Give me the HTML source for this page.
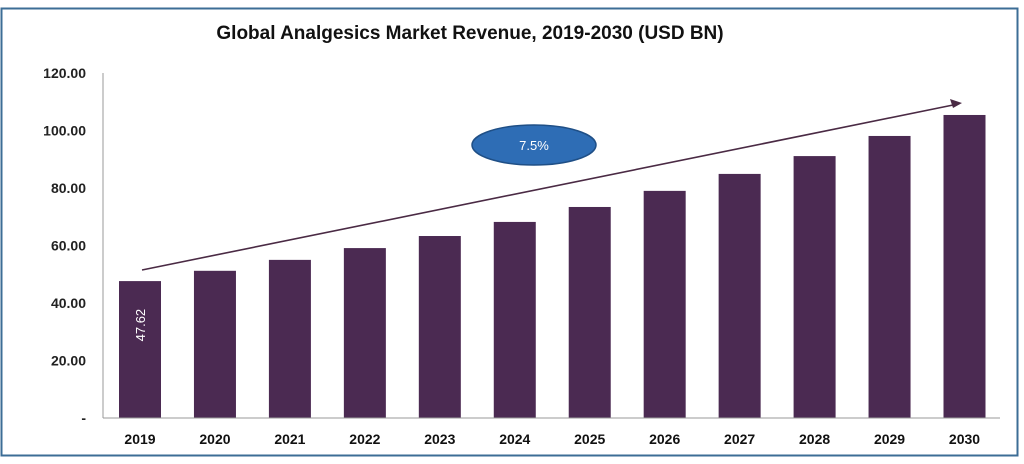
<!DOCTYPE html>
<html><head><meta charset="utf-8"><style>
html,body{margin:0;padding:0;background:#fff;}
svg{display:block;font-family:"Liberation Sans",Arial,sans-serif;}
</style></head><body>
<svg width="1024" height="464" viewBox="0 0 1024 464" xmlns="http://www.w3.org/2000/svg">
<rect x="1.5" y="8.5" width="1016" height="447" fill="#fff" stroke="#3c6d96" stroke-width="2"/>
<text x="470" y="39" text-anchor="middle" font-size="19" font-weight="bold" fill="#111">Global Analgesics Market Revenue, 2019-2030 (USD BN)</text>
<g id="yaxis"></g>
<g id="bars"></g>
<g id="xaxis"></g>
<line x1="142" y1="270" x2="958" y2="104" stroke="#4a2a44" stroke-width="1.6"/>
<polygon points="962,103 950,99 953,108" fill="#4a2a44"/>
<ellipse cx="534" cy="145" rx="62" ry="20" fill="#2e6db5" stroke="#1f4f86" stroke-width="1.5"/>
<text x="534" y="150" text-anchor="middle" font-size="13" fill="#fff">7.5%</text>
<script>
const categories=["2019","2020","2021","2022","2023","2024","2025","2026","2027","2028","2029","2030"];
const values=[47.62,51.2,55.0,59.1,63.3,68.2,73.4,79.0,84.9,91.1,98.1,105.4];
const yTicks=[0,20,40,60,80,100,120];
const yTickLabels=["-","20.00","40.00","60.00","80.00","100.00","120.00"];
const NS="http://www.w3.org/2000/svg";
const x0=103,x1=1000,yBase=418,yTop=73,yMax=120;
const y=v=>yBase-(v/yMax)*(yBase-yTop);
const step=(964.5-140)/(categories.length-1);
const xc=i=>140+step*i;
function mk(t,a,p){const e=document.createElementNS(NS,t);for(const k in a)e.setAttribute(k,a[k]);p.appendChild(e);return e;}
const ya=document.getElementById('yaxis'),ba=document.getElementById('bars'),xa=document.getElementById('xaxis');
const al=mk('line',{x1:x0,y1:yTop,x2:x0,y2:yBase,stroke:'#999','stroke-width':1},ya);


yTicks.forEach((t,i)=>{const e=mk('text',{x:86,y:y(t)+5,'text-anchor':'end','font-size':14,'font-weight':'bold',fill:'#222'},ya);e.textContent=yTickLabels[i];

});
const bl=mk('line',{x1:x0,y1:yBase,x2:x1,y2:yBase,stroke:'#999','stroke-width':1},xa);


const bw=42;
categories.forEach((c,i)=>{const cx=xc(i);
const r=mk('rect',{x:cx-bw/2,y:y(values[i]),width:bw,height:yBase-y(values[i]),fill:'#4b2a52'},ba);


const t=mk('text',{x:cx,y:444,'text-anchor':'middle','font-size':14,'font-weight':'bold',fill:'#111'},xa);t.textContent=c;

});
const lx=xc(0)+5,ly=y(values[0])+44;
const lab=mk('text',{x:lx,y:ly,transform:`rotate(-90 ${lx} ${ly})`,'text-anchor':'middle','font-size':13,fill:'#fff'},ba);
lab.textContent=values[0].toFixed(2);


</script>
</svg>
</body></html>
